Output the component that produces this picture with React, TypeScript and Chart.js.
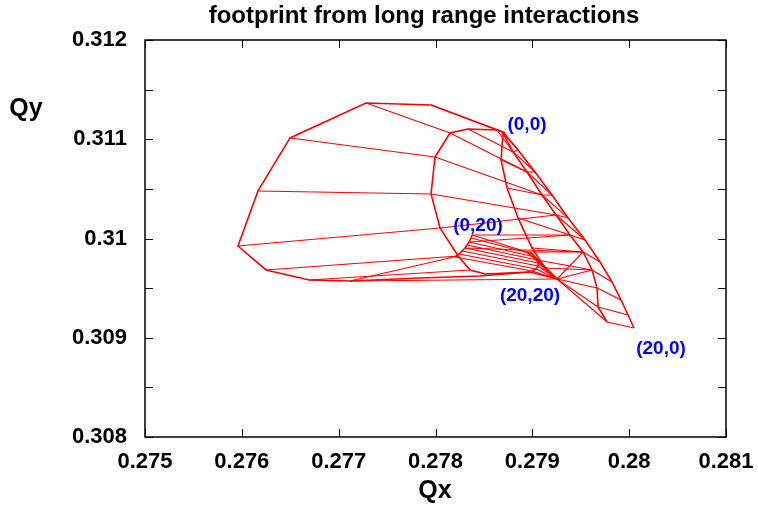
import React, { useEffect, useRef } from 'react';
import { Chart, registerables } from 'chart.js';

Chart.register(...registerables);

type P = [number, number];

// ---- data (Qx, Qy) ----
const outerEdge: P[] = [
  [0.278697, 0.311073], [0.277954, 0.311345], [0.277282, 0.311365], [0.276498, 0.311013],
  [0.276167, 0.310479], [0.27596, 0.309924], [0.27625, 0.309683], [0.276694, 0.309582],
  [0.277117, 0.309572], [0.27784, 0.309602], [0.27846, 0.309622], [0.278976, 0.309662],
  [0.279255, 0.309592],
];

const cupEdge: P[] = [
  [0.278718, 0.311063], [0.278635, 0.311093], [0.278336, 0.311103], [0.27815, 0.311063],
  [0.277995, 0.310821], [0.277954, 0.310448], [0.278047, 0.310106], [0.278233, 0.309824],
  [0.278357, 0.309683], [0.278512, 0.309642], [0.278976, 0.309662],
];

const hookEdge: P[] = [
  [0.278377, 0.310035], [0.278367, 0.310005], [0.278346, 0.309965], [0.278326, 0.309934],
  [0.278305, 0.309904], [0.278274, 0.309874], [0.278243, 0.309844], [0.278202, 0.309814],
];

const fanRight: P[] = [
  [0.278945, 0.309864], [0.278997, 0.309844], [0.279028, 0.309814], [0.279049, 0.309783],
  [0.279059, 0.309753], [0.279059, 0.309723], [0.279038, 0.309693], [0.278997, 0.309673],
];

const ladderOuter: P[] = [
  [0.278697, 0.311073], [0.278852, 0.310892], [0.279028, 0.31067], [0.279203, 0.310438],
  [0.279369, 0.310207], [0.279544, 0.309985], [0.279699, 0.309763], [0.279823, 0.309562],
  [0.279916, 0.30938], [0.279988, 0.309229], [0.28005, 0.309098],
];

const ladderInner: P[] = [
  [0.278697, 0.311063], [0.278801, 0.310872], [0.278945, 0.31067], [0.2791, 0.310438],
  [0.279245, 0.310237], [0.279389, 0.310035], [0.279524, 0.309864], [0.279617, 0.309683],
  [0.279668, 0.309501], [0.279679, 0.30931], [0.279772, 0.309159],
];

const steepCurve: P[] = [
  [0.278697, 0.311063], [0.278677, 0.310791], [0.278739, 0.310509], [0.278852, 0.310207],
  [0.278997, 0.309904], [0.279131, 0.309703], [0.279255, 0.309592],
];

// index links between the node lists above
const lobeLinks: [number, number][] = [[2, 3], [1, 1], [3, 4], [4, 5], [5, 6], [6, 7], [7, 8], [8, 7]];
const cupLadderLinks: [number, number][] = [[1, 1], [2, 1], [3, 2], [4, 3], [5, 4], [6, 4]];
const steepLadderLinks: [number, number][] = [[1, 2], [2, 3], [3, 5], [4, 6], [5, 7]];
const hookLadderLinks: [number, number][] = [[0, 5], [2, 5], [4, 6]];
const fanLadderLinks: [number, number][] = [[0, 6], [3, 7]];
const convergeLadder: number[] = [6, 7, 8, 9, 10];
const rungIdx: number[] = [1, 2, 3, 4, 5, 6, 7, 8, 9, 10];
const diagIdx: number[] = [0, 1, 2, 3, 4];

const xTicks: number[] = [0.275, 0.276, 0.277, 0.278, 0.279, 0.28, 0.281];
const yTicks: number[] = [0.308, 0.309, 0.31, 0.311, 0.312];
const yMinorTicks: number[] = [0.3085, 0.3095, 0.3105, 0.3115];

const cornerLabels = [
  { text: '(0,0)', x: 0.278945, y: 0.311144 },
  { text: '(0,20)', x: 0.278439, y: 0.310126 },
  { text: '(20,20)', x: 0.278976, y: 0.309421 },
  { text: '(20,0)', x: 0.280329, y: 0.308887 },
];

const TITLE = 'footprint from long range interactions';
const X_TITLE = 'Qx';
const Y_TITLE = 'Qy';

const FONT = "'Liberation Sans', Arial, sans-serif";
const RED = '#ff0000';

const fmt = (v: number) => String(parseFloat(v.toFixed(4)));

export default function App() {
  const ref = useRef<HTMLCanvasElement | null>(null);

  useEffect(() => {
    if (!ref.current) return;
    const conv = steepCurve[steepCurve.length - 1];
    const heavy: P[][] = [outerEdge, cupEdge, hookEdge, ladderOuter, ladderInner, steepCurve, fanRight];
    const light: P[][] = [
      ...lobeLinks.map(([o, k]) => [outerEdge[o], cupEdge[k]]),
      ...cupLadderLinks.map(([k, l]) => [cupEdge[k], ladderInner[l]]),
      ...steepLadderLinks.map(([s, l]) => [steepCurve[s], ladderInner[l]]),
      ...hookLadderLinks.map(([h, l]) => [hookEdge[h], ladderInner[l]]),
      ...fanLadderLinks.map(([f, l]) => [fanRight[f], ladderInner[l]]),
      ...convergeLadder.map((l) => [conv, ladderInner[l]]),
      ...rungIdx.map((i) => [ladderInner[i], ladderOuter[i]]),
      ...diagIdx.map((i) => [ladderInner[i], ladderOuter[i + 1]]),
      ...hookEdge.map((h, i) => [h, fanRight[i]]),
      ...fanRight.map((f) => [f, conv]),
      [outerEdge[8], conv],
    ];
    const mk = (pts: P[], w: number) => ({
      data: pts.map(([x, y]) => ({ x, y })),
      showLine: true,
      borderColor: RED,
      backgroundColor: RED,
      borderWidth: w,
      pointRadius: 0,
      fill: false,
      tension: 0,
    });
    const datasets = [...heavy.map((p) => mk(p, 1.6)), ...light.map((p) => mk(p, 1.1))];

    const deco = {
      id: 'deco',
      afterDraw(chart: any) {
        const { ctx, chartArea: a, scales } = chart;
        const xs = scales.x;
        const ys = scales.y;
        ctx.save();
        ctx.strokeStyle = '#000';
        ctx.lineWidth = 1.5;
        ctx.strokeRect(a.left, a.top, a.right - a.left, a.bottom - a.top);
        ctx.lineWidth = 1;
        const tl = 8;
        ctx.beginPath();
        xTicks.forEach((v) => {
          const px = Math.round(xs.getPixelForValue(v)) + 0.5;
          ctx.moveTo(px, a.bottom); ctx.lineTo(px, a.bottom - tl);
          ctx.moveTo(px, a.top); ctx.lineTo(px, a.top + tl);
        });
        [...yTicks, ...yMinorTicks].forEach((v) => {
          const py = Math.round(ys.getPixelForValue(v)) + 0.5;
          ctx.moveTo(a.left, py); ctx.lineTo(a.left + tl, py);
          ctx.moveTo(a.right, py); ctx.lineTo(a.right - tl, py);
        });
        ctx.stroke();

        ctx.fillStyle = '#000';
        ctx.textAlign = 'center';
        ctx.textBaseline = 'alphabetic';
        ctx.font = `bold 24px ${FONT}`;
        ctx.fillText(TITLE, 424, 23);
        ctx.font = `bold 25px ${FONT}`;
        ctx.fillText(X_TITLE, 435, 498);
        ctx.fillText(Y_TITLE, 26, 116);

        ctx.fillStyle = '#0000ff';
        ctx.font = `bold 19px ${FONT}`;
        ctx.textBaseline = 'middle';
        cornerLabels.forEach((l) => {
          ctx.fillText(l.text, xs.getPixelForValue(l.x), ys.getPixelForValue(l.y));
        });
        ctx.restore();
      },
    };

    const tickFont = { family: FONT, size: 22, weight: 'bold' as const };
    const chart = new Chart(ref.current, {
      type: 'scatter',
      data: { datasets },
      options: {
        responsive: false,
        animation: false,
        events: [],
        layout: { padding: { top: 40, right: 32, left: 0, bottom: 0 } },
        plugins: { legend: { display: false }, tooltip: { enabled: false }, title: { display: false } },
        scales: {
          x: {
            type: 'linear',
            min: 0.275,
            max: 0.281,
            grid: { display: false, drawTicks: false },
            border: { display: false },
            afterBuildTicks: (s: any) => { s.ticks = xTicks.map((value) => ({ value })); },
            afterFit: (s: any) => { s.height = 70; s.paddingLeft = 0; s.paddingRight = 0; },
            ticks: {
              autoSkip: false,
              maxRotation: 0,
              minRotation: 0,
              padding: 12,
              color: '#000',
              font: tickFont,
              callback: (v: any) => fmt(Number(v)),
            },
          },
          y: {
            type: 'linear',
            min: 0.308,
            max: 0.312,
            grid: { display: false, drawTicks: false },
            border: { display: false },
            afterBuildTicks: (s: any) => {
              s.ticks = [...yTicks, ...yMinorTicks].sort((a, b) => a - b).map((value) => ({ value }));
            },
            afterFit: (s: any) => { s.width = 145; s.paddingTop = 0; s.paddingBottom = 0; },
            ticks: {
              autoSkip: false,
              padding: 18,
              color: '#000',
              font: tickFont,
              callback: (v: any) => (yTicks.includes(Number(v)) ? fmt(Number(v)) : ''),
            },
          },
        },
      },
      plugins: [deco],
    } as any);
    return () => chart.destroy();
  }, []);

  return (
    <div style={{ position: 'absolute', left: 0, top: 0, width: 758, height: 507, background: '#fff' }}>
      <canvas ref={ref} width={758} height={507} style={{ display: 'block' }} />
    </div>
  );
}
